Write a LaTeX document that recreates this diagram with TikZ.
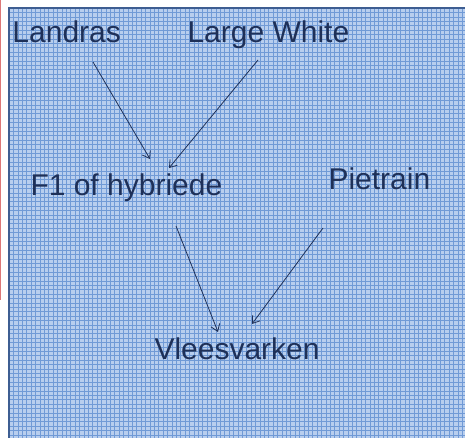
\documentclass[tikz,border=0pt]{standalone}
\usepackage{fontspec}
\setmainfont{Liberation Sans}
\usetikzlibrary{arrows.meta}

\definecolor{sheet}{RGB}{184,206,238}
\definecolor{gridblue}{RGB}{112,154,214}
\definecolor{edgeblue}{RGB}{62,94,146}
\definecolor{inkblue}{RGB}{30,48,88}

\tikzset{every picture/.style={line width=0.75pt}}
\tikzset{
	lbl/.style={font=\fontsize{22.5}{27}\selectfont, text=inkblue, inner sep=0pt, anchor=base west},
	arr/.style={draw=inkblue, line width=0.6pt, -{Straight Barb[length=5pt,width=7pt]}},
	gridline/.style={draw=gridblue, line width=0.35pt}
}

\begin{document}
\begin{tikzpicture}[x=0.75pt,y=0.75pt,yscale=-1,xscale=1]
	\useasboundingbox (0,0) rectangle (465,438);

	%Sheet background
	\fill [white] (0,0) rectangle (465,438);
	\fill [sheet] (9,8) rectangle (465,438);
	%Grid lines
	\foreach \i in {0,...,104} {
		\draw [gridline] ({9+4.4*\i},8) -- ({9+4.4*\i},438);
	}
	\foreach \j in {0,...,98} {
		\draw [gridline] (9,{8+4.4*\j}) -- (465,{8+4.4*\j});
	}
	%Sheet edges
	\draw [edgeblue, line width=1.5pt] (9,438) -- (9,8) -- (465,8);
	\draw [color={rgb, 255:red, 220; green, 120; blue, 120 }, line width=0.8pt] (0.5,0) -- (0.5,300);

	% Text Nodes
	\node [lbl] (landras) at (12,43) {Landras};
	\node [lbl] (largewhite) at (187,43) {Large White};
	\node [lbl] (hybride) at (30,196) {F1 of hybriede};
	\node [lbl] (pietrain) at (328,190) {Pietrain};
	\node [lbl] (vlees) at (154,360) {Vleesvarken};

	% arrow ends
	\coordinate (landrasout) at (93,62);
	\coordinate (whiteout) at (258,60);
	\coordinate (hybridein) at (169,168);
	\coordinate (hybridein2) at (150,159);
	\coordinate (hybrideout) at (176,226);
	\coordinate (pietrainout) at (323,228);
	\coordinate (vleesin) at (218,332);
	\coordinate (vleesin2) at (252,324);

	% Arrows
	\draw [arr] (landrasout) -- (hybridein2);
	\draw [arr] (whiteout) -- (hybridein);
	\draw [arr] (hybrideout) -- (vleesin);
	\draw [arr] (pietrainout) -- (vleesin2);

\end{tikzpicture}
\end{document}
